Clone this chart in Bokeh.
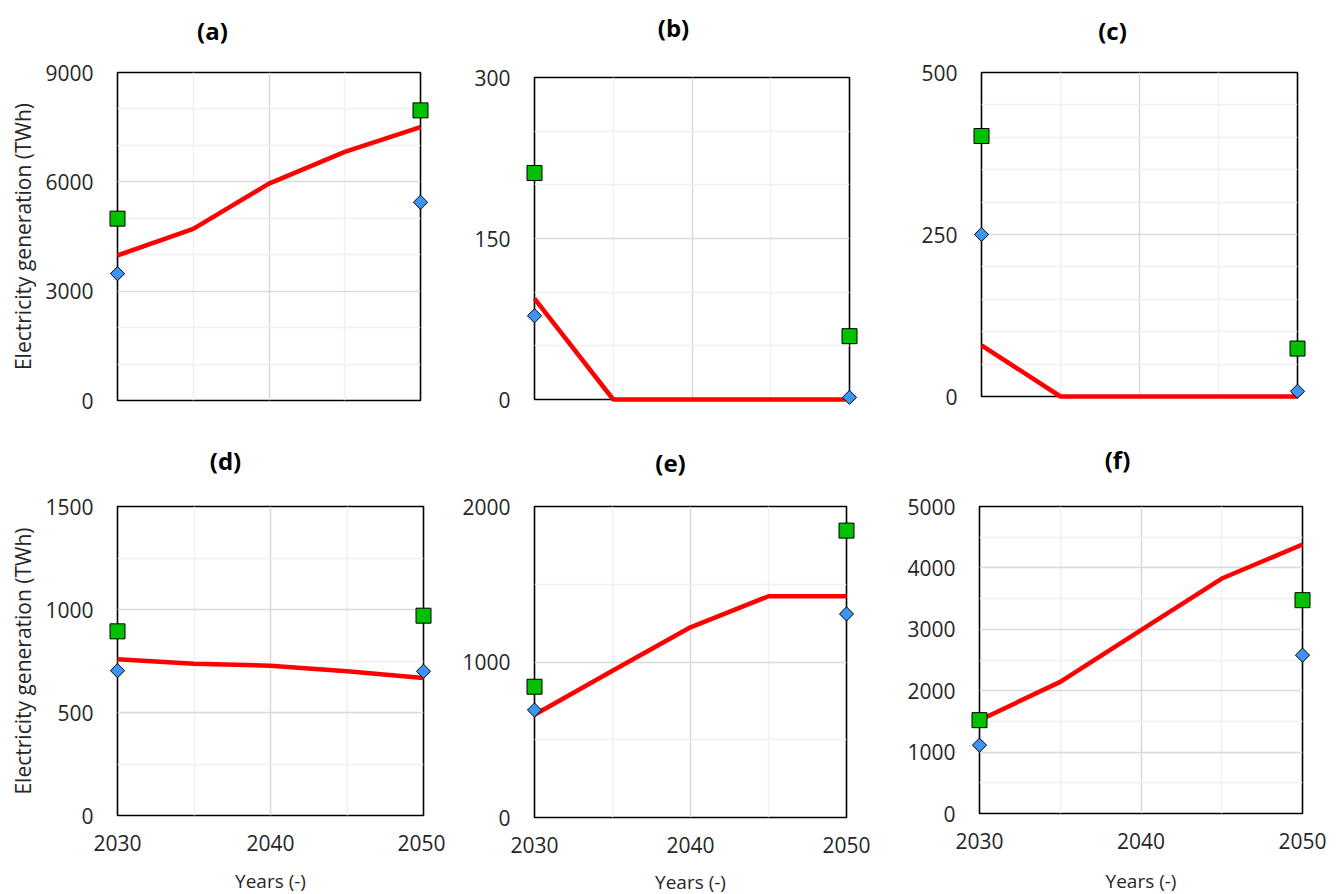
import numpy as np
from bokeh.plotting import figure
from bokeh.layouts import column, row
from bokeh.models import Range1d, FixedTicker, Spacer
from bokeh.core.properties import value
from bokeh.embed import file_html
from bokeh.resources import INLINE

# ---------------- data ----------------
years_line = [2030, 2035, 2040, 2045, 2050]
years_pts = [2030, 2050]

a_line = [3980, 4710, 5950, 6820, 7500]
a_sq = [4990, 7960]
a_dia = [3480, 5440]

b_line = [94, 0, 0, 0, 0]
b_sq = [211, 59]
b_dia = [78, 2]

c_line = [79, 0, 0, 0, 0]
c_sq = [402, 74]
c_dia = [250, 8]

d_line = [759, 737, 727, 700, 667]
d_sq = [894, 970]
d_dia = [703, 700]

e_line = [661, 944, 1223, 1423, 1423]
e_sq = [841, 1845]
e_dia = [691, 1309]

f_line = [1520, 2144, 2986, 3827, 4381]
f_sq = [1520, 3474]
f_dia = [1113, 2579]

x_ticks = [2030, 2040, 2050]
x_minor = [2035, 2045]

FONT = "Open Sans"
TXT = "#262626"


def panel(label, line, sq, dia, ymax, yticks, yminor, layout, title_pos,
          xlabel_off, show_ylabel):
    left, fw, right, top, fh, bottom = layout
    p = figure(frame_width=fw, frame_height=fh,
               min_border_left=left, min_border_right=right,
               min_border_top=top, min_border_bottom=bottom,
               x_range=Range1d(2030, 2050), y_range=Range1d(0, ymax),
               output_backend="svg", toolbar_location=None,
               background_fill_color="white", border_fill_color="white")
    p.outline_line_color = "black"
    p.outline_line_width = 1.6

    # axes
    for ax in (p.xaxis[0], p.yaxis[0]):
        ax.axis_line_color = None
        ax.major_tick_line_color = None
        ax.minor_tick_line_color = None
        ax.major_tick_out = 0
        ax.major_tick_in = 0
        ax.minor_tick_out = 0
        ax.minor_tick_in = 0
        ax.major_label_text_font = FONT
        ax.major_label_text_font_size = "21px"
        ax.major_label_text_color = TXT
        ax.axis_label_text_font = FONT
        ax.axis_label_text_font_size = "21px"
        ax.axis_label_text_font_style = "normal"
        ax.axis_label_text_color = TXT

    p.yaxis.ticker = FixedTicker(ticks=yticks, minor_ticks=yminor)
    p.xaxis.ticker = FixedTicker(ticks=x_ticks, minor_ticks=x_minor)
    p.yaxis.major_label_standoff = 24
    p.xaxis.major_label_standoff = 19
    p.yaxis.axis_label_standoff = 5

    if show_ylabel:
        p.yaxis.axis_label = "Electricity generation (TWh)"
    if xlabel_off is None:
        p.xaxis.visible = False

    # grid
    p.ygrid.ticker = FixedTicker(ticks=yticks, minor_ticks=yminor)
    p.xgrid.ticker = FixedTicker(ticks=x_ticks, minor_ticks=x_minor)
    for g in (p.xgrid[0], p.ygrid[0]):
        g.grid_line_color = "#d9d9d9"
        g.grid_line_width = 1.5
        g.minor_grid_line_color = "#f0f0f0"
        g.minor_grid_line_width = 1.5

    # data
    p.line(years_line, line, line_color="#ff0000", line_width=4.5,
           level="overlay")
    p.scatter(years_pts, sq, marker="square", size=15,
              fill_color="#00c000", line_color="black", line_width=1,
              level="overlay")
    p.scatter(years_pts, dia, marker="square", angle=np.pi / 4, size=10,
              fill_color="#3d94f6", line_color="black", line_width=1,
              level="overlay")

    # panel title: anchored at the frame's top-left corner, offset in px
    tx, ty = title_pos
    p.text(x=[2030], y=[ymax], text=[label], x_offset=tx, y_offset=-ty,
           text_font=value(FONT), text_font_size="24px",
           text_font_style="bold", text_color="black",
           text_align="center", text_baseline="middle", level="overlay")
    # x-axis title: anchored below the frame's bottom centre
    if xlabel_off is not None:
        p.text(x=[2040], y=[0], text=["Years (-)"], y_offset=xlabel_off,
               text_font=value(FONT), text_font_size="19px",
               text_color=TXT, text_align="center",
               text_baseline="middle", level="overlay")
    return p


pa = panel("(a)", a_line, a_sq, a_dia, 9000, [0, 3000, 6000, 9000],
           [1000, 2000, 4000, 5000, 7000, 8000],
           (117, 303, 25, 72, 328, 25), (95, 42), None, True)
pb = panel("(b)", b_line, b_sq, b_dia, 300, [0, 150, 300],
           [50, 100, 200, 250],
           (89, 315, 36, 72, 322, 26), (139, 50), None, False)
pc = panel("(c)", c_line, c_sq, c_dia, 500, [0, 250, 500],
           [50, 100, 150, 200, 300, 350, 400, 450],
           (96, 316, 32, 72, 324, 29), (131, 42), None, False)
pd_ = panel("(d)", d_line, d_sq, d_dia, 1500, [0, 500, 1000, 1500],
            [250, 750, 1250],
            (117, 306, 22, 81, 309, 79), (108, 46), 65, True)
pe = panel("(e)", e_line, e_sq, e_dia, 2000, [0, 1000, 2000],
           [500, 1500],
           (89, 312, 39, 81, 311, 77), (136, 44), 64, False)
pf = panel("(f)", f_line, f_sq, f_dia, 5000,
           [0, 1000, 2000, 3000, 4000, 5000],
           [500, 1500, 2500, 3500, 4500],
           (94, 323, 27, 81, 307, 81), (138, 47), 67, False)

layout = column(row(pa, column(Spacer(width=1, height=5), pb), pc),
                row(pd_, pe, pf))
open("out.html", "w").write(file_html(layout, INLINE))
